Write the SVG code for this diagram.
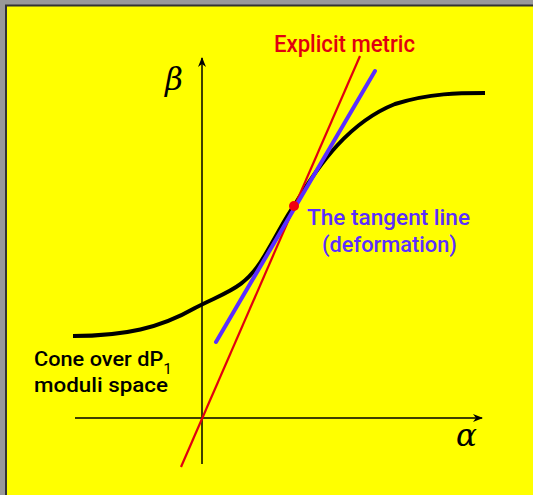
<svg xmlns="http://www.w3.org/2000/svg" width="533" height="495" viewBox="0 0 533 495">
<style>
.lbl{font-family:Roboto,"Liberation Sans",sans-serif;font-weight:500;font-size:24px}
.greek{font-family:"DejaVu Serif","Liberation Serif",serif;font-style:italic;font-size:31px;fill:#000}
.axis{stroke:#000;stroke-width:1.5;fill:none}
</style>
<defs>
<marker id="arr" viewBox="0 0 10 10" refX="9" refY="5" markerWidth="10" markerHeight="10" markerUnits="userSpaceOnUse" orient="auto">
<path d="M0,1 L10,5 L0,9 L3,5 Z" fill="#000"/>
</marker>
</defs>
<rect x="0" y="0" width="533" height="495" fill="#999"/>
<rect x="6" y="5.5" width="540" height="500" fill="#ffff00" stroke="#333" stroke-width="2"/>
<g id="connectors">
<line class="axis" x1="202" y1="464" x2="202" y2="58" marker-end="url(#arr)"/>
<line class="axis" x1="75" y1="418" x2="482" y2="418" marker-end="url(#arr)"/>
</g>
<g id="curve">
<path d="M73,336 C125,336 160,328 195,308 C225,292 245,290 265,255 C280,230 285,218 294,206 C320,162 350,122 395,104 C430,93 460,93 485,93" fill="none" stroke="#000" stroke-width="4"/>
</g>
<g id="metric">
<line x1="181" y1="467" x2="360" y2="56" stroke="#e00010" stroke-width="2.2"/>
</g>
<g id="tangent">
<line x1="216" y1="342" x2="375" y2="71" stroke="#5b2eff" stroke-width="4" stroke-linecap="round"/>
</g>
<g id="point">
<circle cx="294" cy="206" r="5" fill="#f00010"/>
</g>
<g id="labels">
<text class="lbl" x="274" y="52" fill="#e00010" textLength="141" lengthAdjust="spacingAndGlyphs">Explicit metric</text>
<text class="lbl" x="307" y="225" fill="#5b2eff" style="font-size:22px" textLength="163" lengthAdjust="spacingAndGlyphs">The tangent line</text>
<text class="lbl" x="322" y="252" fill="#5b2eff" style="font-size:22px" textLength="135" lengthAdjust="spacingAndGlyphs">(deformation)</text>
<text class="lbl" x="34" y="366" fill="#000" style="font-size:21px" textLength="138" lengthAdjust="spacingAndGlyphs">Cone over dP<tspan dy="8" style="font-size:15px;font-weight:400">1</tspan></text>
<text class="lbl" x="34" y="392" fill="#000" style="font-size:21px" textLength="134" lengthAdjust="spacingAndGlyphs">moduli space</text>
<text class="greek" x="165" y="90">β</text>
<text class="greek" x="456" y="446">α</text>
</g>
</svg>
